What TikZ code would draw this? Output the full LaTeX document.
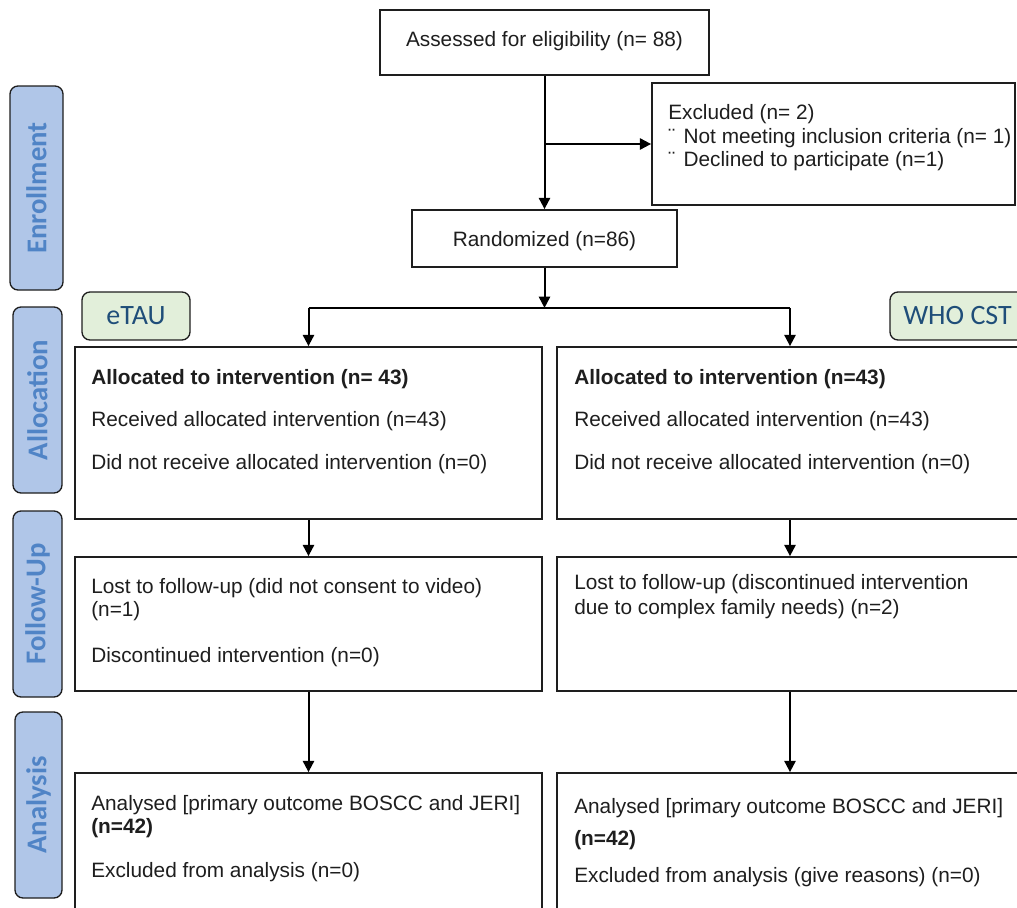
\documentclass[tikz,border=0pt]{standalone}
\usepackage{fontspec}
\setmainfont{Liberation Sans}
\newfontfamily\calibfont{Carlito}
\usetikzlibrary{arrows.meta, positioning, calc, fit}
\definecolor{mydark}{RGB}{30,30,30}
\definecolor{phasefill}{RGB}{176,198,232}
\definecolor{phasetext}{RGB}{80,132,198}
\definecolor{armfill}{RGB}{226,239,218}
\definecolor{armtext}{RGB}{31,78,121}
\tikzset{
  box/.style={rectangle, draw=mydark, fill=white, line width=1.35pt, inner sep=0pt},
  phase/.style={rectangle, draw=mydark, fill=phasefill, rounded corners=6pt,
    line width=1pt, inner sep=0pt},
  phaselbl/.style={rotate=90, inner sep=0pt, color=phasetext,
    font=\calibfont\bfseries\fontsize{21.5}{25}\selectfont},
  arm/.style={rectangle, draw=mydark, fill=armfill, rounded corners=6pt,
    line width=1pt, inner sep=0pt},
  armlbl/.style={inner sep=0pt, color=armtext,
    font=\calibfont\fontsize{21}{25}\selectfont},
  txt/.style={anchor=base west, inner sep=0pt, color=mydark,
    font=\fontsize{15.6}{19}\selectfont},
  arrow/.style={-{Triangle[length=8.5pt,width=8.5pt]}, line width=1.5pt, color=black},
  line/.style={line width=1.5pt, color=black}
}

\begin{document}
\begin{tikzpicture}[x=0.75pt, y=-0.75pt]
  \clip (0,0) rectangle (1017,907);
  % phase labels
  \node[phase, fit={(10,86) (63,290)}] (enroll) {};
  \node[phaselbl] (enrollLbl) at (enroll.center) {Enrollment};
  \node[phase, fit={(13,307) (62,493)}] (alloc) {};
  \node[phaselbl] (allocLbl) at (alloc.center) {Allocation};
  \node[phase, fit={(13,511) (62,697)}] (follow) {};
  \node[phaselbl] (followLbl) at (follow.center) {Follow-Up};
  \node[phase, fit={(15,712) (62,898)}] (analys) {};
  \node[phaselbl] (analysLbl) at (analys.center) {Analysis};

  % enrollment
  \node[box, fit={(380,10) (709,75)}] (assess) {};
  \node[txt, anchor=base] (assessTxt) at (544.5,46) {Assessed for eligibility (n= 88)};
  \node[box, fit={(652,83) (1015,205)}] (excl) {};
  \node[txt] (exclA) at (668,119) {Excluded (n= 2)};
  \node[txt] (exclB) at (668,143) {¨\hspace{2pt} Not meeting inclusion criteria (n= 1)};
  \node[txt] (exclC) at (668,166) {¨\hspace{2pt} Declined to participate (n=1)};
  \node[box, fit={(412,210) (677,267)}] (rand) {};
  \node[txt, anchor=base] (randTxt) at (544.5,246) {Randomized (n=86)};

  % arms
  \node[arm, fit={(82,292) (190,340)}] (etau) {};
  \node[armlbl] (etauLbl) at (etau.center) {eTAU};
  \node[arm, fit={(890,292) (1030,340)}] (who) {};
  \node[armlbl, anchor=west] (whoLbl) at (903,316) {WHO CST};

  % allocation
  \node[box, fit={(75,347) (542,519)}] (allocL) {};
  \node[txt] (allocL1) at (91,384) {\textbf{Allocated to intervention (n= 43)}};
  \node[txt] (allocL2) at (91,426) {Received allocated intervention (n=43)};
  \node[txt] (allocL3) at (91,469) {Did not receive allocated intervention (n=0)};
  \node[box, fit={(557,347) (1023,519)}] (allocR) {};
  \node[txt] (allocR1) at (574,384) {\textbf{Allocated to intervention (n=43)}};
  \node[txt] (allocR2) at (574,426) {Received allocated intervention (n=43)};
  \node[txt] (allocR3) at (574,469) {Did not receive allocated intervention (n=0)};

  % follow-up
  \node[box, fit={(75,557) (542,691)}] (followL) {};
  \node[txt] (followL1) at (91,593) {Lost to follow-up (did not consent to video)};
  \node[txt] (followL2) at (91,616) {(n=1)};
  \node[txt] (followL3) at (91,662) {Discontinued intervention (n=0)};
  \node[box, fit={(557,557) (1023,691)}] (followR) {};
  \node[txt] (followR1) at (574,589) {Lost to follow-up (discontinued intervention};
  \node[txt] (followR2) at (574,614) {due to complex family needs) (n=2)};

  % analysis
  \node[box, fit={(75,773) (542,915)}] (analysL) {};
  \node[txt] (analysL1) at (91,810) {Analysed [primary outcome BOSCC and JERI]};
  \node[txt] (analysL2) at (91,833) {\textbf{(n=42)}};
  \node[txt] (analysL3) at (91,877) {Excluded from analysis (n=0)};
  \node[box, fit={(557,773) (1023,915)}] (analysR) {};
  \node[txt] (analysR1) at (574,813) {Analysed [primary outcome BOSCC and JERI]};
  \node[txt] (analysR2) at (574,845) {\textbf{(n=42)}};
  \node[txt] (analysR3) at (574,882) {Excluded from analysis (give reasons) (n=0)};

  % connectors
  \draw[arrow] (assess.south) -- (rand.north);
  \coordinate (branch) at (assess.south |- excl.west);
  \draw[arrow] (branch) -- (excl.west);
  \coordinate (split) at ($(rand.south)+(0,40)$);
  \draw[arrow] (rand.south) -- (split);
  \draw[line] (allocL.north |- split) -- (allocR.north |- split);
  \draw[arrow] (allocL.north |- split) -- (allocL.north);
  \draw[arrow] (allocR.north |- split) -- (allocR.north);
  \draw[arrow] (allocL) -- (followL);
  \draw[arrow] (allocR) -- (followR);
  \draw[arrow] (followL) -- (analysL);
  \draw[arrow] (followR) -- (analysR);
\end{tikzpicture}
\end{document}
